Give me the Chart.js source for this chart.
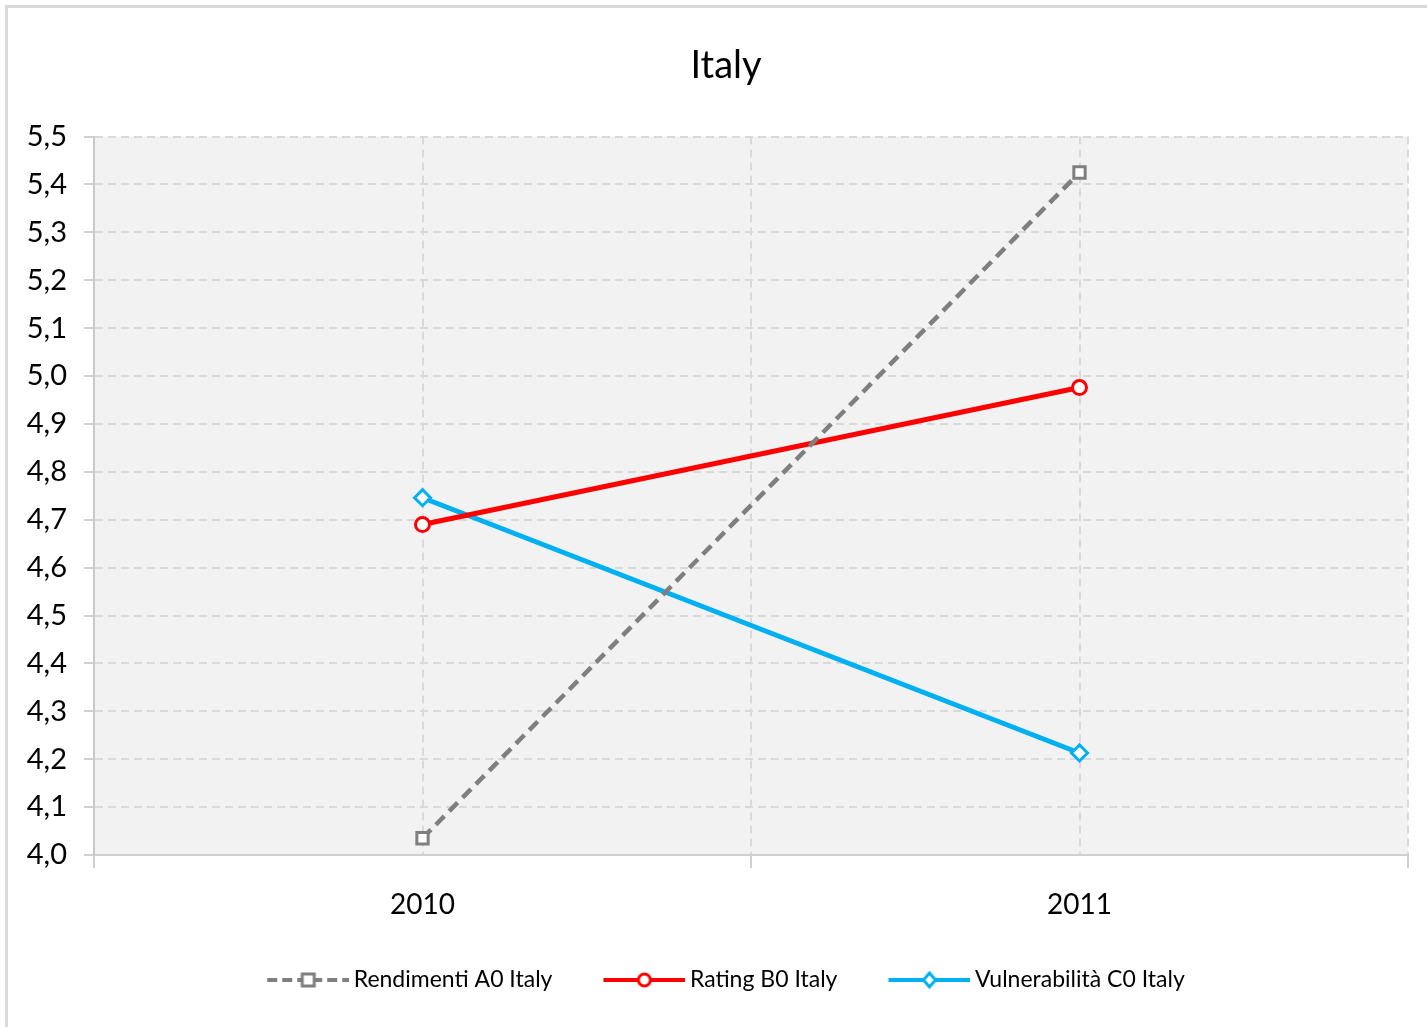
<!DOCTYPE html>
<html>
<head>
<meta charset="utf-8">
<script src="https://cdn.jsdelivr.net/npm/chart.js@4.4.1/dist/chart.umd.min.js"></script>
<style>
  body { margin: 0; background: #fff; overflow: hidden; }
  #frame { position: absolute; left: 5px; top: 5px; width: 1500px; height: 1100px;
           border-left: 3px solid #d9d9d9; border-top: 3px solid #d9d9d9; }
  #box { position: absolute; left: 7px; top: 7px; width: 1440px; height: 1020px; }
</style>
</head>
<body>
<div id="frame"></div>
<div id="box"><canvas id="myChart"></canvas></div>
<script>
// dati
const categorie = ['2010', '2011'];
const rendimenti = [4.035, 5.425];
const rating = [4.69, 4.976];
const vulnerabilita = [4.746, 4.213];
const yMin = 4.0, yMax = 5.5, yStep = 0.1;

const FONT = "Lato, 'Liberation Sans', sans-serif";

// punti sul centro di ogni categoria (0.5, 1.5)
function punti(valori) {
    return valori.map((v, i) => ({ x: i + 0.5, y: v }));
}

// piccola immagine per la legenda: linea + marcatore
function iconaLegenda(colore, tipo, tratteggio) {
    const c = document.createElement('canvas');
    c.width = 89; c.height = 20;
    const g = c.getContext('2d');
    g.strokeStyle = colore;
    g.lineWidth = 4;
    g.setLineDash(tratteggio || []);
    g.beginPath(); g.moveTo(7, 10); g.lineTo(89, 10); g.stroke();
    g.setLineDash([]);
    g.lineWidth = 3;
    g.fillStyle = '#fff';
    const cx = 48, cy = 10;
    g.beginPath();
    if (tipo === 'rect') {
        g.rect(cx - 6, cy - 6, 12, 12);
    } else if (tipo === 'circle') {
        g.arc(cx, cy, 6, 0, Math.PI * 2);
    } else {
        g.moveTo(cx, cy - 7); g.lineTo(cx + 6, cy); g.lineTo(cx, cy + 7); g.lineTo(cx - 6, cy); g.closePath();
    }
    g.fill(); g.stroke();
    return c;
}

const sfondoArea = {
    id: 'sfondoArea',
    beforeDraw(chart) {
        const a = chart.chartArea;
        const ctx = chart.ctx;
        ctx.save();
        ctx.fillStyle = '#f2f2f2';
        ctx.fillRect(a.left, a.top, a.right - a.left, a.bottom - a.top);
        ctx.restore();
    }
};

const datasets = [
    {
        label: 'Rendimenti A0 Italy',
        data: punti(rendimenti),
        borderColor: '#7f7f7f',
        borderWidth: 4.5,
        borderDash: [12, 7],
        pointStyle: 'rect',
        pointRadius: 8,
        pointBorderWidth: 3,
        pointBackgroundColor: '#fff',
        pointBorderColor: '#7f7f7f',
        icona: iconaLegenda('#7f7f7f', 'rect', [10, 5])
    },
    {
        label: 'Rating B0 Italy',
        data: punti(rating),
        borderColor: '#ff0000',
        borderWidth: 5,
        pointStyle: 'circle',
        pointRadius: 7,
        pointBorderWidth: 3,
        pointBackgroundColor: '#fff',
        pointBorderColor: '#ff0000',
        icona: iconaLegenda('#ff0000', 'circle')
    },
    {
        label: 'Vulnerabilità C0 Italy',
        data: punti(vulnerabilita),
        borderColor: '#00b0f0',
        borderWidth: 5,
        pointStyle: 'rectRot',
        pointRadius: 8,
        pointBorderWidth: 3,
        pointBackgroundColor: '#fff',
        pointBorderColor: '#00b0f0',
        icona: iconaLegenda('#00b0f0', 'diamond')
    }
];

const ctx = document.getElementById('myChart').getContext('2d');
const myChart = new Chart(ctx, {
    type: 'line',
    data: { datasets: datasets },
    options: {
        responsive: true,
        maintainAspectRatio: false,
        animation: false,
        layout: { padding: { left: 0, right: 2, top: 0, bottom: 25.5 } },
        plugins: {
            tooltip: { enabled: false },
            title: {
                display: true,
                text: 'Italy',
                color: '#000',
                font: { family: FONT, size: 38, weight: 'normal' },
                padding: { top: 36, bottom: 48 }
            },
            legend: {
                position: 'bottom',
                labels: {
                    usePointStyle: true,
                    pointStyleWidth: 75,
                    padding: 51,
                    color: '#000',
                    font: { family: FONT, size: 23 },
                    generateLabels: (chart) => chart.data.datasets.map((ds, i) => ({
                        text: ds.label,
                        pointStyle: ds.icona,
                        datasetIndex: i,
                        hidden: false,
                        fillStyle: '#fff',
                        strokeStyle: ds.borderColor,
                        lineWidth: 0,
                        fontColor: '#000'
                    }))
                }
            }
        },
        scales: {
            x: {
                type: 'linear',
                min: 0,
                max: categorie.length,
                afterFit: (scale) => { scale.height = 62.5; },
                ticks: {
                    stepSize: 0.5,
                    autoSkip: false,
                    maxRotation: 0,
                    padding: 20,
                    color: '#000',
                    font: { family: FONT, size: 28 },
                    callback: function (value) {
                        const i = value - 0.5;
                        return Number.isInteger(i) ? categorie[i] : '';
                    }
                },
                grid: {
                    color: '#d9d9d9',
                    lineWidth: 2,
                    tickLength: 13,
                    tickColor: (c) => (c.tick && Number.isInteger(c.tick.value)) ? '#d0d0d0' : 'rgba(0,0,0,0)'
                },
                border: { color: '#d0d0d0', width: 2, dash: [8, 5] }
            },
            y: {
                min: yMin,
                max: yMax,
                afterFit: (scale) => { scale.width = 87; },
                ticks: {
                    stepSize: yStep,
                    padding: 17,
                    color: '#000',
                    font: { family: FONT, size: 29 },
                    callback: (v) => v.toFixed(1).replace('.', ',')
                },
                grid: {
                    color: '#d9d9d9',
                    lineWidth: 2,
                    tickLength: 10,
                    tickColor: '#d0d0d0'
                },
                border: { color: '#c8c8c8', width: 2, dash: [8, 5] }
            },
            // asse vuoto a destra, serve solo a centrare titolo e legenda
            yVuoto: {
                position: 'right',
                display: true,
                afterFit: (scale) => { scale.width = 37; },
                ticks: { display: false },
                grid: { display: false },
                border: { display: false }
            }
        }
    },
    plugins: [sfondoArea]
});
</script>
</body>
</html>
